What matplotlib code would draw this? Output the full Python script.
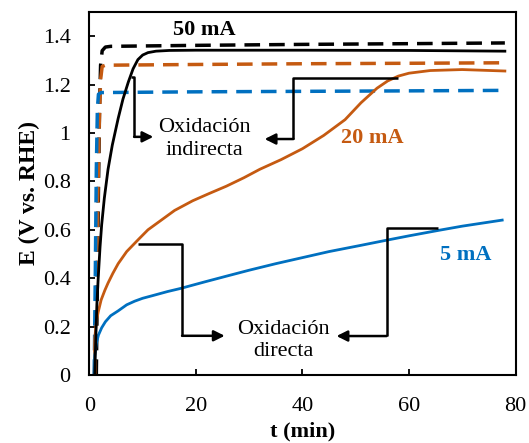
import matplotlib.pyplot as plt

plt.rcParams['font.family'] = ['Liberation Serif', 'DejaVu Serif']

ORANGE = '#C55A11'
BLUE = '#0070C0'

# dashed series (plateau curves)
t_d50 = [1.3, 1.6, 1.9, 2.1, 2.4, 3.0, 4.0, 20, 40, 60, 78]
E_d50 = [0.0, 0.6, 1.1, 1.28, 1.34, 1.355, 1.358, 1.362, 1.366, 1.369, 1.372]
t_d20 = [1.0, 1.4, 1.8, 2.1, 2.4, 3.0, 20, 40, 60, 78]
E_d20 = [0.0, 0.5, 1.0, 1.22, 1.275, 1.28, 1.283, 1.286, 1.288, 1.29]
t_d5 = [0.9, 1.1, 1.3, 1.5, 1.7, 2.2, 20, 40, 60, 78]
E_d5 = [0.0, 0.4, 0.85, 1.1, 1.16, 1.167, 1.17, 1.172, 1.174, 1.176]

# solid series
t_50 = [1.0, 1.2, 1.4, 1.65, 2.0, 2.3, 2.8, 3.5, 4.3, 5.4, 6.3, 7.3, 8.2, 9.1,
        10, 11, 12.5, 15, 20, 40, 60, 78]
E_50 = [0.0, 0.15, 0.29, 0.40, 0.53, 0.62, 0.73, 0.85, 0.95, 1.06, 1.14, 1.21,
        1.265, 1.303, 1.322, 1.332, 1.338, 1.341, 1.342, 1.342, 1.341, 1.338]
t_20 = [0.9, 1.0, 1.3, 1.65, 2.2, 2.9, 3.5, 4.4, 5.4, 7, 9.2, 11, 13.5, 16,
        19.4, 22.5, 25.7, 29, 32, 36, 40, 44, 48, 51, 54, 56, 58, 60, 64, 70, 78]
E_20 = [0.0, 0.15, 0.22, 0.26, 0.31, 0.35, 0.38, 0.42, 0.46, 0.51, 0.56, 0.60,
        0.64, 0.68, 0.72, 0.75, 0.78, 0.815, 0.85, 0.89, 0.935, 0.99, 1.055,
        1.125, 1.185, 1.215, 1.235, 1.247, 1.258, 1.262, 1.256]
t_5 = [0.9, 1.0, 1.3, 1.7, 2.3, 3.0, 4.0, 5.4, 7, 8.5, 10, 11.7, 14.7, 17,
       21.7, 26, 30, 35, 39, 45, 50.8, 55.8, 60, 65.4, 70, 77.5]
E_5 = [0.0, 0.08, 0.13, 0.165, 0.195, 0.22, 0.245, 0.265, 0.29, 0.305, 0.317,
       0.327, 0.345, 0.357, 0.385, 0.41, 0.433, 0.46, 0.48, 0.51, 0.535, 0.557,
       0.575, 0.597, 0.615, 0.64]

fig = plt.figure(figsize=(5.29, 4.43), dpi=100)
ax = fig.add_axes([0.169, 0.1535, 0.8055, 0.8195])

dash = (0, (4.5, 2.6))
ax.plot(t_d50, E_d50, color='black', lw=2.5, linestyle=dash)
ax.plot(t_d20, E_d20, color=ORANGE, lw=2.5, linestyle=dash)
ax.plot(t_d5, E_d5, color=BLUE, lw=2.5, linestyle=dash)
ax.plot(t_20, E_20, color=ORANGE, lw=2.0)
ax.plot(t_5, E_5, color=BLUE, lw=2.0)
ax.plot(t_50, E_50, color='black', lw=2.0)

# elbow connectors with arrows
connectors = [
    ([7.9, 8.4, 8.4], [1.232, 1.232, 0.984], (12.0, 0.984)),
    ([57.9, 38.3, 38.3], [1.227, 1.227, 0.975], (32.9, 0.975)),
    ([9.2, 17.4, 17.4], [0.54, 0.54, 0.162], (25.4, 0.162)),
    ([65.4, 55.8, 55.8], [0.607, 0.607, 0.161], (46.4, 0.161)),
]
for xs, ys, tip in connectors:
    ax.plot(xs, ys, color='black', lw=1.8, solid_capstyle='butt')
    ax.annotate('', xy=tip, xytext=(xs[-1], ys[-1]),
                arrowprops=dict(arrowstyle='-|>', color='black', lw=1.8,
                                mutation_scale=16, shrinkA=0, shrinkB=0))

ax.text(21.6, 0.975, 'Oxidación\nindirecta', fontsize=16, ha='center',
        va='center', multialignment='center', linespacing=1.25)
ax.text(36.4, 0.142, 'Oxidación\ndirecta', fontsize=16, ha='center',
        va='center', multialignment='center', linespacing=1.25)

ax.text(21.5, 1.424, '50 mA', fontsize=16, fontweight='bold', color='black',
        ha='center', va='center')
ax.text(53.2, 0.98, '20 mA', fontsize=16, fontweight='bold', color=ORANGE,
        ha='center', va='center')
ax.text(70.6, 0.494, '5 mA', fontsize=16, fontweight='bold', color=BLUE,
        ha='center', va='center')

ax.set_xlim(0, 80)
ax.set_ylim(0, 1.5)
ax.set_xticks([0, 20, 40, 60, 80])
ax.set_yticks([0, 0.2, 0.4, 0.6, 0.8, 1.0, 1.2, 1.4])
ax.set_yticklabels(['0', '0.2', '0.4', '0.6', '0.8', '1', '1.2', '1.4'])
ax.tick_params(axis='both', direction='in', length=4.5, width=1.3, labelsize=16)
ax.tick_params(axis='y', pad=13.5)
ax.tick_params(axis='x', pad=16)
for s in ax.spines.values():
    s.set_linewidth(1.5)

ax.set_xlabel('t (min)', fontsize=16, fontweight='bold', labelpad=4)
ax.set_ylabel('E (V vs. RHE)', fontsize=17, fontweight='bold', labelpad=2)

plt.savefig('out.png', dpi=100)
